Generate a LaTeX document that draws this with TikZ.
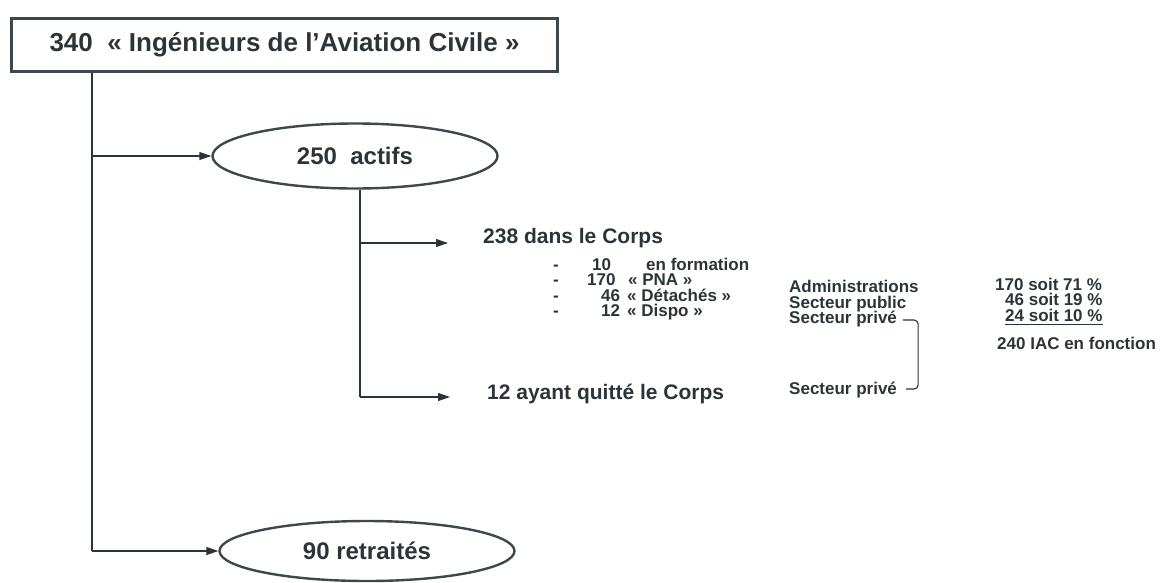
\documentclass[tikz,border=0pt]{standalone}
\usepackage{fontspec}
\setmainfont{Liberation Sans}
\usetikzlibrary{shapes.geometric,arrows.meta,calc}
\definecolor{ink}{RGB}{45,52,56}
\definecolor{edgec}{RGB}{62,72,74}
\begin{document}
\begin{tikzpicture}[x=1pt,y=-1pt,
  every node/.style={text=ink},
  txt/.style={inner sep=0pt,anchor=base west,font=\fontsize{17}{17}\selectfont\bfseries},
  bigtxt/.style={inner sep=0pt,anchor=base west,font=\fontsize{21}{21}\selectfont\bfseries},
  bubble/.style={draw=edgec,line width=2.4pt,ellipse,inner sep=0pt,font=\fontsize{24}{24}\selectfont\bfseries},
  conn/.style={draw=ink,line width=1.1pt},
  arr/.style={conn,-{Triangle[length=12pt,width=8pt]}}]
\useasboundingbox (0,0) rectangle (1166,582);

% title
\node[draw=edgec,line width=3pt,anchor=west,inner xsep=38pt,inner ysep=0pt,minimum height=53pt,
      font=\fontsize{26}{26}\selectfont\bfseries] (title) at (10,44.5)
      {340\ \ « Ingénieurs de l’Aviation Civile »};

% ellipses
\node[bubble,minimum width=285pt,minimum height=65pt] (actifs) at (355,156) {250\ \ actifs};
\node[bubble,minimum width=295pt,minimum height=60pt] (retr) at (367,551) {90 retraités};

% trunk
\coordinate (j1) at (92,156);
\coordinate (j2) at (92,551);
\draw[conn] (title.south -| j1) -- (j2);
\draw[arr] (j1) -- (actifs.west);
\draw[arr] (j2) -- (retr.west);

% second level texts
\node[bigtxt] (corps) at (483,243) {238 dans le Corps};
\node[bigtxt] (quit) at (487,399) {12 ayant quitté le Corps};

\coordinate (k1) at (360,243);
\coordinate (k2) at (360,397);
\draw[conn] (actifs.south -| k1) -- (k2);
\draw[arr,shorten >=35pt] (k1) -- (k1 -| corps.west);
\draw[arr,shorten >=37pt] (k2) -- (k2 -| quit.west);

% list
\node[txt] (d1) at (553,270) {-};
\node[txt] (d2) at (553,285.5) {-};
\node[txt] (d3) at (553,301) {-};
\node[txt] (d4) at (553,316.5) {-};
\node[txt] (n1) at (592,270) {10};
\node[txt] (n2) at (587,285.5) {170};
\node[txt] (n3) at (601,301) {46};
\node[txt] (n4) at (601,316.5) {12};
\node[txt] (l1) at (646,270) {en formation};
\node[txt] (l2) at (628,285.5) {« PNA »};
\node[txt] (l3) at (627,301) {« Détachés »};
\node[txt] (l4) at (627,316.5) {« Dispo »};

% sectors
\node[txt] (adm) at (789,292.5) {Administrations};
\node[txt] (pub) at (789,308) {Secteur public};
\node[txt] (priv1) at (789,323.5) {Secteur privé};
\node[txt] (priv2) at (789,394.5) {Secteur privé};

% bracket
\draw[conn,rounded corners=4pt] ($(priv1.east)+(6,1)$) -- ++(15,0) |- ($(priv2.east)+(9,-1)$);

% percentages
\node[txt] (s1) at (995,290) {170 soit 71 \%};
\node[txt] (s2) at (1005,305.5) {46 soit 19 \%};
\node[txt] (s3) at (1005,321) {24 soit 10 \%};
\draw[draw=ink,line width=1.2pt] ([yshift=-3pt]s3.south west) -- ([yshift=-3pt]s3.south east);
\node[txt] (iac) at (997,349.5) {240 IAC en fonction};
\end{tikzpicture}
\end{document}
